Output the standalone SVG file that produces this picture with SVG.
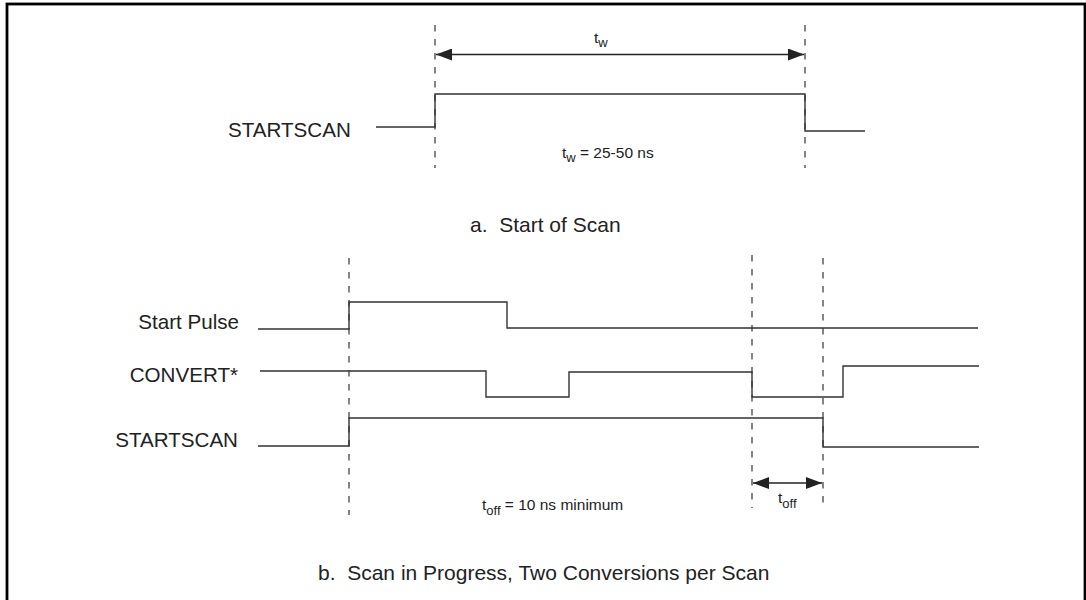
<svg xmlns="http://www.w3.org/2000/svg" width="1086" height="600" viewBox="0 0 1086 600">
<style>
.wave{fill:none;stroke:#333;stroke-width:1.4}
.dash{fill:none;stroke:#333;stroke-width:1.2;stroke-dasharray:6.5 7.5}
.dim{fill:none;stroke:#222;stroke-width:1.4}
.lbl{font-family:"Liberation Sans",Arial,sans-serif;font-size:20.6px;fill:#222}
.cap{font-family:"Liberation Sans",Arial,sans-serif;font-size:21px;fill:#222}
.sm{font-family:"Liberation Sans",Arial,sans-serif;font-size:15.5px;fill:#222}
.sub{font-size:13px}
</style>
<defs>
<marker id="ah" viewBox="0 0 16 12" refX="16" refY="6" markerWidth="16" markerHeight="12" markerUnits="userSpaceOnUse" orient="auto-start-reverse">
<path d="M0,0 L16,6 L0,12 Z" fill="#222"/>
</marker>
</defs>
<rect x="7" y="4" width="1078" height="700" fill="#fff" stroke="#000" stroke-width="2.8"/>

<g id="connectors">
<line class="dash" x1="435" y1="25" x2="435" y2="168"/>
<line class="dash" x1="805" y1="25" x2="805" y2="168"/>
<line class="dim" x1="436" y1="54.5" x2="804" y2="54.5" marker-start="url(#ah)" marker-end="url(#ah)"/>
<line class="dash" x1="349" y1="258" x2="349" y2="515"/>
<line class="dash" x1="752" y1="255" x2="752" y2="508"/>
<line class="dash" x1="823" y1="258" x2="823" y2="508"/>
<line class="dim" x1="753" y1="483" x2="822" y2="483" marker-start="url(#ah)" marker-end="url(#ah)"/>
</g>

<g id="startscan-a">
<text class="lbl" x="228" y="137">STARTSCAN</text>
<polyline class="wave" points="376,127 435,127 435,94 805,94 805,131 865,131"/>
</g>

<g id="tw-label">
<text class="sm" x="594" y="43">t<tspan class="sub" dy="4">w</tspan></text>
</g>
<g id="tw-eq">
<text class="sm" x="562" y="158">t<tspan class="sub" dy="4">w</tspan><tspan dy="-4"> = 25-50 ns</tspan></text>
</g>

<g id="caption-a">
<text class="cap" x="470" y="232" xml:space="preserve">a.  Start of Scan</text>
</g>

<g id="start-pulse">
<text class="lbl" x="239" y="329" text-anchor="end">Start Pulse</text>
<polyline class="wave" points="258,329 349,329 349,302 507,302 507,328 978,328"/>
</g>

<g id="convert">
<text class="lbl" x="238" y="382" text-anchor="end">CONVERT*</text>
<polyline class="wave" points="260,371 486,371 486,397 569,397 569,372 752,372 752,397 843,397 843,366 979,366"/>
</g>

<g id="startscan-b">
<text class="lbl" x="238" y="447" text-anchor="end">STARTSCAN</text>
<polyline class="wave" points="258,446 349,446 349,418 823,418 823,447 979,447"/>
</g>

<g id="toff-label">
<text class="sm" x="778" y="503">t<tspan class="sub" dy="5">off</tspan></text>
</g>
<g id="toff-eq">
<text class="sm" x="482" y="510">t<tspan class="sub" dy="5">off</tspan><tspan dy="-5"> = 10 ns minimum</tspan></text>
</g>

<g id="caption-b">
<text class="cap" x="318" y="580" xml:space="preserve">b.  Scan in Progress, Two Conversions per Scan</text>
</g>
</svg>
